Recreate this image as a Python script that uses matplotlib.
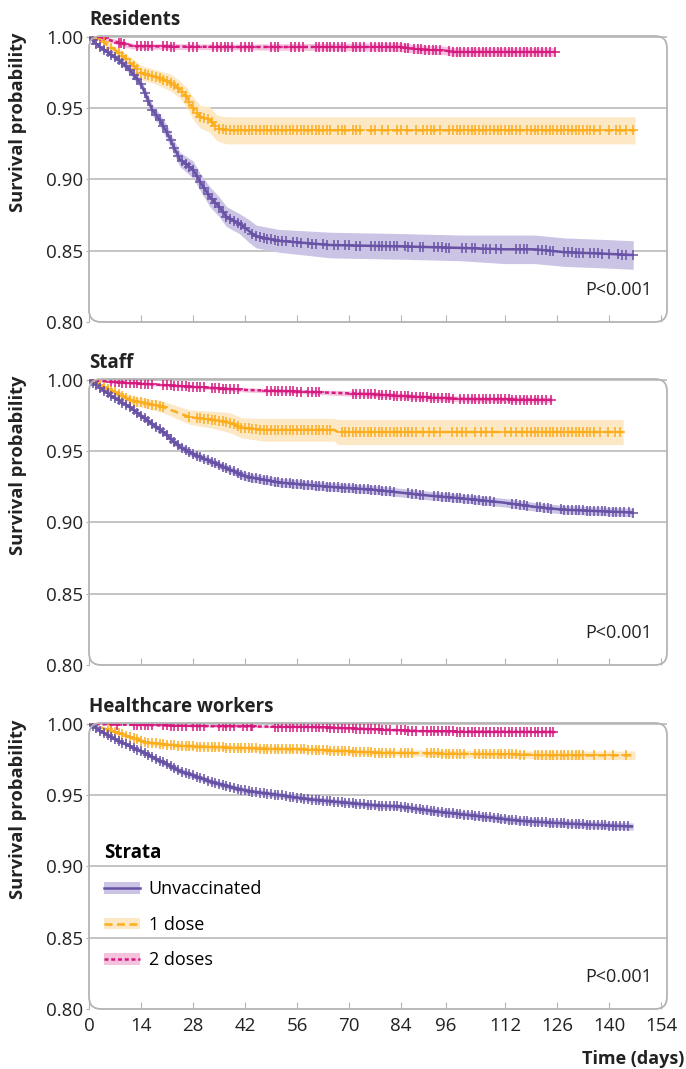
import numpy as np
from matplotlib import pyplot as plt
from matplotlib.patches import FancyBboxPatch, Patch
from matplotlib.lines import Line2D
from matplotlib.legend_handler import HandlerTuple

plt.rcParams['font.family'] = ['Open Sans', 'DejaVu Sans']

# ---- Residents ----
res_unvax_t = [0, 3, 8, 11, 14, 15.5, 17, 19, 21, 23, 24.5, 28, 30, 32.5, 35, 37, 40.5, 43, 45, 51, 65, 85, 100, 112, 120, 128, 138, 146.5]
res_unvax_s = [1.000, 0.993, 0.984, 0.977, 0.967, 0.958, 0.949, 0.942, 0.933, 0.922, 0.914, 0.907, 0.898, 0.888, 0.881, 0.874, 0.869, 0.864, 0.860, 0.857, 0.854, 0.853, 0.852, 0.851, 0.851, 0.849, 0.848, 0.847]
res_unvax_ci = [0, 0.001, 0.002, 0.003, 0.003, 0.004, 0.004, 0.004, 0.005, 0.005, 0.005, 0.006, 0.006, 0.007, 0.007, 0.007, 0.007, 0.008, 0.008, 0.008, 0.009, 0.009, 0.009, 0.010, 0.010, 0.010, 0.010, 0.010]
res_unvax_cens = [1, 2, 3, 4, 5, 6, 7, 8, 9, 10, 11, 12, 13, 14, 15, 16, 17, 18, 19, 20, 21, 22, 23, 24, 25, 26, 27, 28, 29, 30, 31, 32, 33, 34, 35, 36, 37, 38, 39, 40, 41, 42, 44, 45, 46, 47, 48, 49, 50, 51, 52, 53, 55, 56, 57, 59, 60, 61, 63, 64, 66, 67, 69, 70, 72, 73, 76, 77, 78, 79, 80, 81, 82, 83, 85, 86, 87, 89, 90, 93, 94, 95, 96, 97, 100.5, 101.5, 103, 104, 106, 107, 108, 109.5, 111, 115, 116, 117, 118, 121, 122, 123, 124, 125, 128, 129, 130, 131, 132, 133, 135, 136, 137, 138, 140, 142.5, 143.5, 144.5, 146.5]

res_dose1_t = [0, 3, 8, 11, 14, 18, 22, 24.5, 26.5, 28, 30, 32.5, 34.5, 37, 147]
res_dose1_s = [1.0, 0.998, 0.989, 0.982, 0.975, 0.972, 0.968, 0.963, 0.957, 0.950, 0.944, 0.942, 0.936, 0.9345, 0.9345]
res_dose1_ci = [0, 0.001, 0.003, 0.004, 0.005, 0.005, 0.006, 0.006, 0.007, 0.008, 0.008, 0.009, 0.009, 0.0095, 0.0095]
res_dose1_cens = [2, 4, 6, 8, 9, 10, 11, 12, 13, 14, 15, 16, 17, 18, 19, 20, 21, 22, 23, 24, 25, 26, 27, 28, 29, 30, 31, 32, 33, 34, 35, 36, 37, 38, 39, 40, 41, 42, 43, 44, 45, 46, 47, 48, 49, 50, 51, 52, 53, 54, 55, 56, 57, 58, 59, 60, 61, 62, 63, 64, 65, 67, 68, 69, 71, 72, 73, 76, 77, 79, 80.5, 83, 84, 85.5, 88, 90, 91, 92, 93, 94.5, 97, 98, 99, 100, 101, 102, 103, 104, 105, 106, 107, 108, 109, 110, 111, 112, 113, 114, 115, 116, 118, 119, 120, 121, 122, 123, 124, 125, 126, 127, 128, 129, 130, 131, 132, 133, 134, 135, 136, 137.5, 140, 142, 143, 144.5, 146.5]

res_dose2_t = [0, 4, 8, 12, 40, 84, 88, 96, 98, 125.5]
res_dose2_s = [1.0, 0.999, 0.996, 0.9935, 0.993, 0.993, 0.9915, 0.9905, 0.9895, 0.9895]
res_dose2_ci = [0, 0.001, 0.002, 0.002, 0.002, 0.003, 0.003, 0.003, 0.003, 0.003]
res_dose2_cens = [2, 3, 4, 8, 8.7, 9.5, 13, 14, 15, 16, 17, 20, 21, 22, 23, 27, 28, 29, 33.5, 34.5, 35.5, 36.5, 37.5, 38.5, 41, 42, 43, 44, 49, 50, 51, 54.5, 55.5, 56.5, 57.5, 61, 62, 63, 64, 65, 66, 67, 68, 69, 71, 72, 73, 74, 76, 77, 78, 79, 80, 81, 82, 83, 84, 85, 86, 87.5, 88.5, 89.5, 90.5, 91.5, 92.5, 93.5, 94.5, 97, 98, 99, 100, 101, 102, 103, 104, 105, 106, 107, 108, 109, 110, 111, 112, 113, 114, 115, 116, 117, 118, 119, 120, 121, 122, 123, 124, 125.5]

# ---- Staff ----
staff_unvax_t = [0, 6.5, 11, 15.5, 20, 24.5, 29, 33.5, 38, 42.5, 51.5, 65, 76.5, 91, 100, 111.5, 120, 127.6, 146.5]
staff_unvax_s = [1.0, 0.988, 0.981, 0.972, 0.9635, 0.953, 0.947, 0.942, 0.937, 0.932, 0.928, 0.925, 0.923, 0.919, 0.917, 0.914, 0.911, 0.909, 0.907]
staff_unvax_ci = [0, 0.001, 0.0015, 0.002, 0.002, 0.0025, 0.0025, 0.0025, 0.0025, 0.003, 0.003, 0.003, 0.003, 0.003, 0.003, 0.003, 0.003, 0.003, 0.003]
staff_unvax_cens = [1, 2, 3, 4, 5, 6, 7, 8, 9, 10, 11, 12, 13, 14, 15, 16, 17, 18, 19, 20, 21, 22, 23, 24, 25, 26, 27, 28, 29, 30, 31, 32, 33, 34, 35, 36, 37, 38, 39, 40, 41, 42, 43, 44, 45, 46, 47, 48, 49, 50, 51, 52, 53, 54, 55, 56, 57, 58, 59, 60, 61, 62, 63, 64, 65, 66, 67, 68, 69, 70, 71, 72, 73, 74, 75, 76, 77, 78, 79, 80, 81, 82, 86, 87, 88, 89, 90, 93, 94, 95, 96, 97, 98, 99, 100, 101, 102, 103, 104, 105, 106, 107, 108, 109, 114, 115, 116, 117, 118, 120.5, 121.5, 122.5, 123.5, 124.5, 127, 128, 129, 130, 131, 132, 133, 134, 135, 136, 137, 138, 139, 140, 141, 142, 143, 144, 145.5, 146.5]

staff_dose1_t = [0, 3, 11, 20, 27, 33.5, 38, 41, 47, 66, 67, 143.8]
staff_dose1_s = [1.0, 0.9965, 0.986, 0.981, 0.974, 0.972, 0.970, 0.9665, 0.965, 0.965, 0.9635, 0.9635]
staff_dose1_ci = [0, 0.001, 0.003, 0.004, 0.005, 0.006, 0.007, 0.007, 0.008, 0.008, 0.0088, 0.0088]
staff_dose1_cens = [2, 3, 4, 5, 6, 7, 8, 9, 10, 11, 12, 13, 14, 15, 16, 17, 18, 19, 20, 27, 29, 30, 31, 32, 33, 34, 35, 36, 37, 38, 39, 40, 41, 42, 43, 44, 45, 46, 47, 48, 49, 50, 51, 52, 53, 54, 55, 56, 57, 58, 59, 60, 61, 62, 63, 64, 65, 68, 69, 70, 71, 72, 73, 74, 75, 76, 77, 78, 79, 80, 81, 82, 83, 84, 85, 86, 87, 88, 90, 91.5, 93, 94.5, 97.6, 99, 100.5, 101.6, 104, 105.5, 107, 108.5, 112, 113.5, 115, 116.5, 118, 119, 120, 121, 122, 123, 124, 125, 126, 127, 128, 129, 130, 131, 132, 133, 134, 135, 136, 137.5, 139.6, 141.5, 143]

staff_dose2_t = [0, 6.5, 20, 42.5, 60, 76, 89, 100, 124.6]
staff_dose2_s = [1.0, 0.9986, 0.9965, 0.993, 0.9916, 0.990, 0.988, 0.9867, 0.986]
staff_dose2_ci = [0, 0.001, 0.001, 0.0015, 0.0015, 0.002, 0.002, 0.002, 0.002]
staff_dose2_cens = [6, 7, 8, 9, 10, 11, 12, 13, 14, 15, 16, 17, 20, 21, 22, 23, 24, 25, 26, 27, 28, 29, 30, 31, 33, 34, 35, 36, 37, 38, 39, 40, 48, 49, 50, 51, 52, 53, 54, 55, 56, 57, 59, 60, 61, 62, 71, 72, 73, 74, 75, 76, 77, 78, 79, 80, 81, 82, 83, 84, 85, 86, 87, 88, 89, 90, 91, 92, 93, 94, 95, 96, 97, 98, 100, 101, 102, 103, 104, 105, 106, 107, 108, 109, 110, 111, 112, 113, 114, 115, 116, 117, 118, 119, 120, 121, 122, 123, 124.5]

# ---- Healthcare workers ----
hcw_unvax_t = [0, 6.5, 15.5, 24.5, 33.5, 42.5, 51.5, 60, 76.5, 84, 92, 102.6, 116, 129.5, 146.5]
hcw_unvax_s = [1.0, 0.990, 0.979, 0.967, 0.959, 0.953, 0.950, 0.947, 0.943, 0.942, 0.939, 0.936, 0.932, 0.930, 0.928]
hcw_unvax_ci = [0, 0.001, 0.0015, 0.002, 0.002, 0.002, 0.002, 0.002, 0.002, 0.002, 0.0025, 0.0025, 0.0025, 0.0025, 0.0025]
hcw_unvax_cens = [1, 2, 3, 4, 5, 6, 7, 8, 9, 10, 11, 12, 13, 14, 15, 16, 17, 18, 19, 20, 21, 22, 23, 24, 25, 26, 27, 28, 29, 30, 31, 32, 33, 34, 35, 36, 37, 38, 39, 40, 41, 42, 43, 44, 45, 46, 47, 48, 49, 50, 51, 52, 53, 54, 55, 56, 57, 58, 59, 60, 61, 62, 63, 64, 65, 66, 67, 68, 69, 70, 71, 72, 73, 74, 75, 76, 77, 78, 79, 80, 81, 82, 83, 84, 85, 86, 87, 88, 89, 90, 91, 92, 93, 94, 95, 96, 97, 98, 99, 100, 101, 102, 103, 104, 105, 106, 107, 108, 109, 110, 111, 112, 113, 114, 115, 116, 117, 118, 119, 120, 121, 122, 123, 124, 125, 126, 127, 128, 129, 130, 131, 132, 133, 134, 135, 136, 137, 138, 139, 140, 141, 142, 143, 144, 145]

hcw_dose1_t = [0, 6.5, 15.5, 24.5, 42.5, 60, 76.5, 102.6, 118, 122, 147]
hcw_dose1_s = [1.0, 0.995, 0.987, 0.9846, 0.983, 0.982, 0.980, 0.979, 0.9785, 0.978, 0.978]
hcw_dose1_ci = [0, 0.001, 0.0015, 0.002, 0.002, 0.002, 0.002, 0.0025, 0.0025, 0.003, 0.003]
hcw_dose1_cens = [5, 6, 7, 8, 9, 10, 11, 12, 13, 14, 15, 16, 17, 18, 19, 20, 21, 22, 23, 24, 25, 26, 27, 28, 29, 30, 31, 32, 33, 34, 35, 36, 37, 38, 39, 40, 41, 42, 43, 44, 45, 46, 47, 48, 49, 50, 51, 52, 53, 54, 55, 56, 57, 58, 59, 60, 61, 62, 63, 64, 65, 66, 67, 68, 69, 70, 71, 72, 73, 74, 75, 76, 77, 78, 79, 80, 81, 82, 84, 85, 86, 87, 91, 92, 93, 94, 95, 96, 97, 98, 99, 100, 101, 104, 105, 106, 107, 108, 109, 110, 111, 112, 113, 114, 115, 116, 117, 120, 121, 122, 123, 124, 125, 126, 127, 128, 129, 130, 131, 132, 133, 136, 139, 141, 144.5]

hcw_dose2_t = [0, 30, 60, 75, 90, 100, 125.5]
hcw_dose2_s = [1.0, 0.9985, 0.998, 0.9965, 0.995, 0.9947, 0.9945]
hcw_dose2_ci = [0, 0.0005, 0.001, 0.001, 0.001, 0.001, 0.001]
hcw_dose2_cens = [6, 7.5, 12, 13, 14, 15, 16, 17, 20, 21, 22, 23, 24, 25, 26, 28, 29, 30, 31, 35, 36, 37, 38, 39, 41.5, 42.5, 43.5, 44, 50, 51, 52, 53, 54, 55, 56, 57, 58, 59, 60, 61, 62, 63, 64, 65, 66, 67, 68, 69, 70, 71, 72, 73, 74, 75, 76, 77, 78, 79, 80, 81, 83, 84, 85, 86, 87, 88, 90, 91, 92, 93, 94, 95, 96, 97, 98, 99, 100, 101, 102, 103, 104, 105, 106, 107, 108, 109, 110, 111, 112, 113, 114, 115, 116, 117, 118, 119, 120, 121, 122, 123, 124, 125]

panel_titles = ['Residents', 'Staff', 'Healthcare workers']
strata_labels = ['Unvaccinated', '1 dose', '2 doses']
p_text = 'P<0.001'
x_ticks = [0, 14, 28, 42, 56, 70, 84, 96, 112, 126, 140, 154]
y_ticks = [0.80, 0.85, 0.90, 0.95, 1.00]

line_colors = ['#6852a6', '#fbad1c', '#d6197f']
band_colors = ['#cbc4e5', '#fde8c6', '#f4c2dd']
dash_styles = ['-', (0, (3.2, 1.8)), (0, (1.6, 1.1))]

FRAME = '#b4b4b4'
TXT = '#222222'


def draw_curve(ax, t, s, ci, cens, k):
    t = np.asarray(t)
    s = np.asarray(s)
    ci = np.asarray(ci)
    ax.fill_between(t, s - ci, s + ci, color=band_colors[k], lw=0, zorder=1)
    ax.plot(t, s, color=line_colors[k], lw=1.8, ls=dash_styles[k], zorder=3,
            solid_capstyle='butt')
    cy = np.interp(cens, t, s)
    ax.plot(cens, cy, ls='none', marker='+', ms=7.5, mew=1.1,
            color=line_colors[k], zorder=4)


def setup_axes(ax, title):
    ax.set_xlim(0, 155.6)
    ax.set_ylim(0.80, 1.0007)
    for sp in ax.spines.values():
        sp.set_visible(False)
    frame = FancyBboxPatch((0, 0), 1, 1, boxstyle='round,pad=0,rounding_size=0.021',
                           mutation_aspect=578 / 286, transform=ax.transAxes,
                           fill=False, ec=FRAME, lw=1.3, zorder=5, clip_on=False)
    ax.add_patch(frame)
    ax.set_yticks(y_ticks)
    ax.set_yticklabels([f'{v:.2f}' for v in y_ticks])
    ax.set_xticks(x_ticks)
    ax.tick_params(axis='y', direction='out', length=2, color=FRAME,
                   labelsize=13.5, pad=2, labelcolor=TXT)
    ax.tick_params(axis='x', direction='in', length=5, color=FRAME,
                   labelsize=13.5, pad=6, labelcolor=TXT)
    for v in y_ticks[1:]:
        ax.axhline(v, color=FRAME, lw=1.1, zorder=0)
    ax.set_ylabel('Survival probability', fontsize=13.2, fontweight='bold',
                  color=TXT)
    ax.yaxis.set_label_coords(-0.107, 0.70)
    ax.text(0, 1.02, title, transform=ax.transAxes, fontsize=13.5,
            fontweight='bold', ha='left', va='bottom', color=TXT)
    ax.text(0.974, 0.112, p_text, transform=ax.transAxes, fontsize=13,
            ha='right', va='center', color=TXT)


fig = plt.figure(figsize=(6.86, 10.69), dpi=100)
panel_bottoms = [1 - 322 / 1069, 1 - 665 / 1069, 1 - 1009 / 1069]
axes = [fig.add_axes([89 / 686, b, 578 / 686, 286 / 1069]) for b in panel_bottoms]

panels = [
    [(res_unvax_t, res_unvax_s, res_unvax_ci, res_unvax_cens),
     (res_dose1_t, res_dose1_s, res_dose1_ci, res_dose1_cens),
     (res_dose2_t, res_dose2_s, res_dose2_ci, res_dose2_cens)],
    [(staff_unvax_t, staff_unvax_s, staff_unvax_ci, staff_unvax_cens),
     (staff_dose1_t, staff_dose1_s, staff_dose1_ci, staff_dose1_cens),
     (staff_dose2_t, staff_dose2_s, staff_dose2_ci, staff_dose2_cens)],
    [(hcw_unvax_t, hcw_unvax_s, hcw_unvax_ci, hcw_unvax_cens),
     (hcw_dose1_t, hcw_dose1_s, hcw_dose1_ci, hcw_dose1_cens),
     (hcw_dose2_t, hcw_dose2_s, hcw_dose2_ci, hcw_dose2_cens)],
]

for i, ax in enumerate(axes):
    setup_axes(ax, panel_titles[i])
    for k in (2, 1, 0):
        draw_curve(ax, *panels[i][k], k)
    if i < 2:
        ax.tick_params(axis='x', labelbottom=False)

# legend in bottom panel: band + line overlaid
handles = []
for k in range(3):
    band = Patch(facecolor=band_colors[k], edgecolor='none')
    ln = Line2D([], [], color=line_colors[k], lw=1.8, ls=dash_styles[k])
    handles.append((band, ln))
leg = axes[2].legend(handles, strata_labels, handler_map={tuple: HandlerTuple(ndivide=1, pad=0)},
                     title='Strata', loc='upper left', bbox_to_anchor=(0.014, 0.607),
                     frameon=False, fontsize=13, labelspacing=0.97, handlelength=2.0,
                     handleheight=0.6, handletextpad=0.45, alignment='left',
                     borderaxespad=0.2, borderpad=0.2)
leg.get_title().set_fontweight('bold')
leg.get_title().set_fontsize(13.5)
leg.set_zorder(6)

axes[2].set_xlabel('Time (days)', fontsize=13, fontweight='bold', color=TXT)
axes[2].xaxis.set_label_coords(1.03, -0.145)
axes[2].xaxis.label.set_ha('right')

fig.savefig('out.png', dpi=100)
